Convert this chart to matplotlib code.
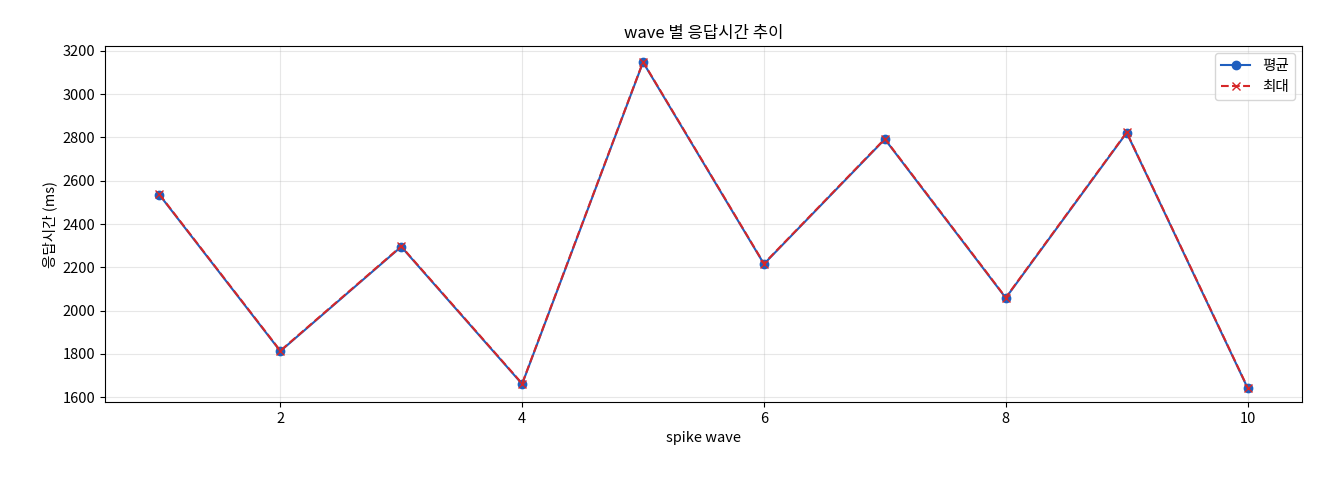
import matplotlib
matplotlib.use("Agg")
import matplotlib.pyplot as plt

plt.rcParams['font.family'] = ['Noto Sans CJK KR', 'DejaVu Sans']
plt.rcParams['axes.unicode_minus'] = False

waves = [1, 2, 3, 4, 5, 6, 7, 8, 9, 10]
avg_ms = [2535, 1812, 2295, 1660, 3148, 2215, 2792, 2058, 2822, 1642]
max_ms = [2537, 1814, 2297, 1662, 3150, 2217, 2794, 2060, 2824, 1644]

fig = plt.figure(figsize=(13.2, 4.8), dpi=100)
ax = fig.add_axes([105/1320, 1-402/480, (1302-105)/1320, (402-46)/480])
ax.plot(waves, avg_ms, marker='o', color='#1f5fbf', label='평균', markersize=6)
ax.plot(waves, max_ms, marker='x', linestyle='--', color='#d62728', label='최대', markersize=6)
ax.set_title('wave 별 응답시간 추이', fontsize=12)
ax.set_xlabel('spike wave', fontsize=10.5)
ax.set_ylabel('응답시간 (ms)', fontsize=10.5)
ax.grid(True, alpha=0.3)
ax.set_yticks(range(1600, 3201, 200))
ax.set_ylim(1577, 3223)
ax.tick_params(labelsize=10.5)
ax.legend(loc='upper right', fontsize=10.5)
fig.savefig('out.png', dpi=100)
